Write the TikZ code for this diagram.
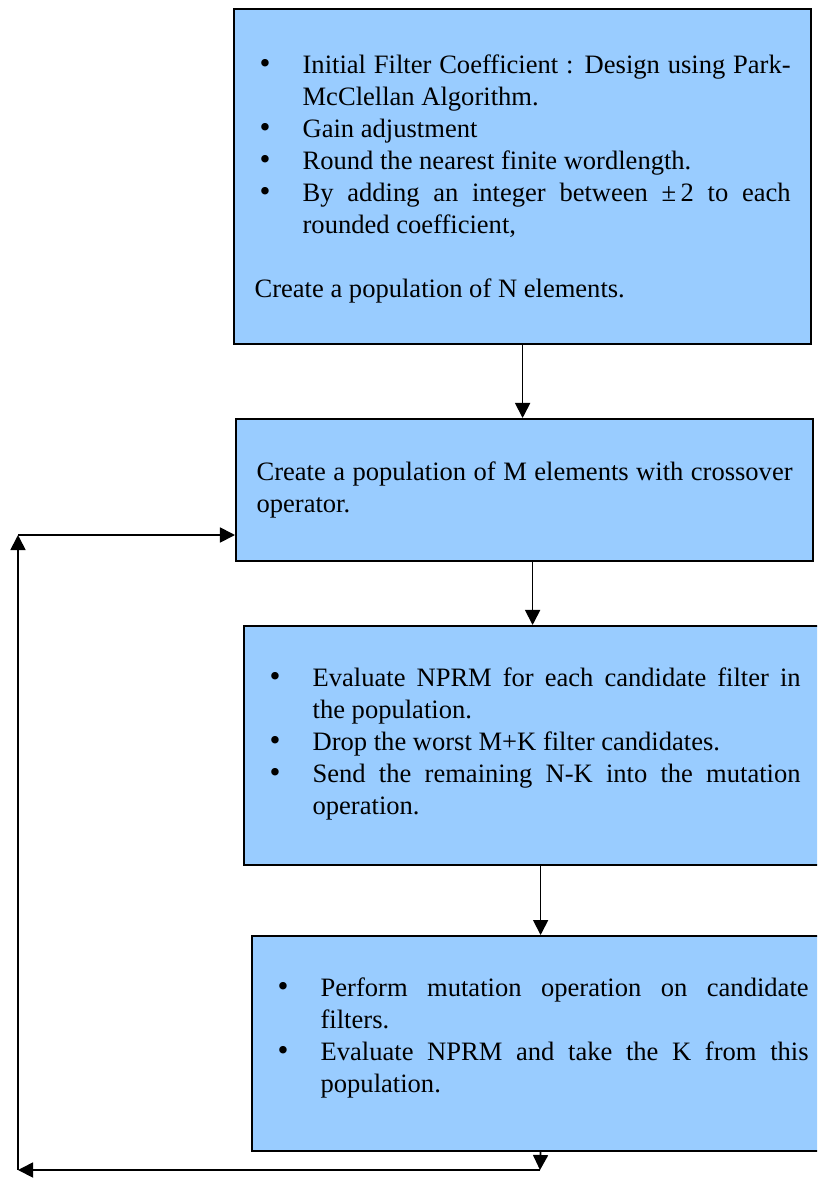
\documentclass[tikz,border=0pt]{standalone}
\usepackage{fontspec}
\setmainfont{Liberation Serif}
\usepackage{enumitem}
\usetikzlibrary{positioning, arrows.meta}
\definecolor{boxfill}{RGB}{153,204,255}
\definecolor{boxline}{RGB}{0,0,0}
\newcommand{\bigdot}{{\fontsize{13.5}{13.5}\selectfont\textbullet}}
\newcommand{\padbelow}[1]{\par\nointerlineskip\vbox to #1{}}
\setlist[itemize]{label=\bigdot, leftmargin=20.8pt, labelwidth=18.6pt,
  labelsep=0pt, align=left, itemsep=0pt, parsep=0pt, topsep=0pt, partopsep=0pt}
\tikzset{
  stagebox/.style={
    rectangle, draw=boxline, line width=0.9pt,
    fill=boxfill, anchor=north west,
    text width=232.1pt, inner xsep=8.9pt, inner ysep=0pt,
    align=justify, font=\fontsize{11.5}{13.86}\selectfont
  },
  flowarrow/.style={
    -{Triangle[length=6.5pt, width=6.5pt]}, draw=boxline, line width=0.75pt
  }
}
\begin{document}
\begin{tikzpicture}[x=0.433pt, y=-0.433pt]
  \useasboundingbox (0,0) rectangle (817,1203);
  \clip (0,0) rectangle (817,1203);

  \node[stagebox, minimum height=145.1pt] (init) at (233,8) {%
    \begin{itemize}
      \item Initial Filter Coefficient : Design using Park-\linebreak McClellan Algorithm.
      \item Gain adjustment
      \item Round the nearest finite wordlength.
      \item By adding an integer between ±\,2 to each\linebreak rounded coefficient,
    \end{itemize}
    \vspace{\baselineskip}
    \noindent Create a population of N elements.\padbelow{3.4pt}};
  \node[stagebox, minimum height=61.5pt] (cross) at (235,418) {%
    Create a population of M elements with crossover\linebreak operator.};
  \node[stagebox, minimum height=103.5pt] (select) at (243,625) {%
    \begin{itemize}
      \item Evaluate NPRM for each candidate filter in\linebreak the population.
      \item Drop the worst M+K filter candidates.
      \item Send the remaining N-K into the mutation\linebreak operation.
    \end{itemize}\padbelow{7.4pt}};
  \node[stagebox, minimum height=93.1pt] (mutate) at (251,935) {%
    \begin{itemize}
      \item Perform mutation operation on candidate\linebreak filters.
      \item Evaluate NPRM and take the K from this\linebreak population.
    \end{itemize}\padbelow{10.4pt}};

  \coordinate (loopa) at (540,1170);
  \coordinate (loopb) at (18,1170);
  \coordinate (loopc) at (18,535);

  \draw[flowarrow] (init.south) -- (init.south |- cross.north);
  \draw[flowarrow] (cross.south -| select.north) -- (select.north);
  \draw[flowarrow] (select.south -| mutate.north) -- (mutate.north);
  \draw[flowarrow] (mutate.south) -- (loopa);
  \draw[flowarrow] (loopa) -- (loopb);
  \draw[flowarrow] (loopb) -- (loopc);
  \draw[flowarrow] (loopc) -- (loopc -| cross.west);
\end{tikzpicture}
\end{document}
